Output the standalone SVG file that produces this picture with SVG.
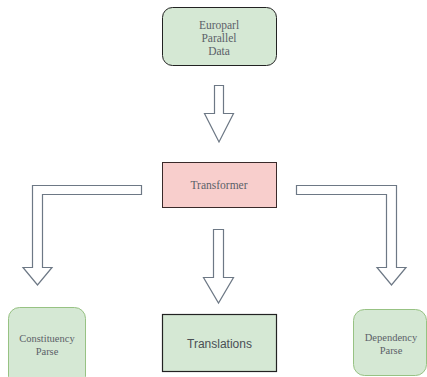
<svg xmlns="http://www.w3.org/2000/svg" width="427" height="377" viewBox="0 0 427 377">
<style>
.arrow{fill:#ffffff;stroke:#6d7885;stroke-width:1.2;stroke-linejoin:miter}
.ser{font-family:"Liberation Serif","Times New Roman",serif;fill:#5b6168;text-anchor:middle}
.sans{font-family:"Liberation Sans",Arial,sans-serif;fill:#4a4f55;text-anchor:middle}
.green{fill:#d5e8d4}
</style>
<rect width="427" height="377" fill="#ffffff"/>
<g id="europarl">
<rect x="162.5" y="7.5" width="114" height="58" rx="10" class="green" stroke="#222222" stroke-width="1"/>
<text class="ser" font-size="11.5" x="219" y="29">Europarl</text>
<text class="ser" font-size="11.5" x="219" y="42">Parallel</text>
<text class="ser" font-size="11.5" x="219" y="55">Data</text>
</g>
<g id="transformer">
<rect x="162.5" y="162.5" width="114" height="45" fill="#f8cecc" stroke="#3a2a2a" stroke-width="1"/>
<text class="ser" font-size="11.5" x="219" y="189">Transformer</text>
</g>
<g id="constituency">
<rect x="8.5" y="307.5" width="77" height="80" rx="11" class="green" stroke="#97c283" stroke-width="1"/>
<text class="ser" font-size="10.5" x="47" y="342">Constituency</text>
<text class="ser" font-size="10.5" x="47" y="355">Parse</text>
</g>
<g id="translations">
<rect x="162.5" y="314.5" width="114" height="57" class="green" stroke="#222222" stroke-width="1.2"/>
<text class="sans" font-size="12" x="219.5" y="348">Translations</text>
</g>
<g id="dependency">
<rect x="353.5" y="309.5" width="73" height="66" rx="11" class="green" stroke="#97c283" stroke-width="1"/>
<text class="ser" font-size="10.5" x="391" y="341">Dependency</text>
<text class="ser" font-size="10.5" x="391" y="354">Parse</text>
</g>
<g id="connectors">
<path class="arrow" d="M214.5,85.5 H223.5 V113.5 H233.5 L219,142 L204.5,113.5 H214.5 Z"/>
<path class="arrow" d="M213.5,229.5 H223.5 V277.5 H233.5 L218.5,303 L203.5,277.5 H213.5 Z"/>
<path class="arrow" d="M32.5,185.5 H141.5 V194.5 H42.5 V267.5 H52 L37.5,285 L23,267.5 H32.5 Z"/>
<path class="arrow" d="M296.5,185.5 H396.5 V267.5 H406 L391.5,285 L377,267.5 H386.5 V194.5 H296.5 Z"/>
</g>
</svg>
